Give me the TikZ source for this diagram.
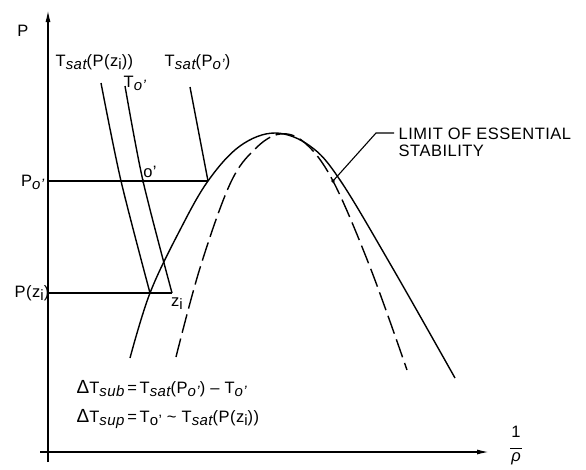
\documentclass[tikz,border=0pt]{standalone}
\usepackage{fontspec}
\setmainfont{Liberation Sans}[LetterSpace=3]
\usetikzlibrary{arrows.meta}
\newcommand\sbs[1]{\raisebox{-0.35ex}{\fontsize{15}{15}\selectfont\itshape #1}}
\newcommand\sbu[1]{\raisebox{-0.35ex}{\fontsize{15}{15}\selectfont #1}}
\begin{document}
\begin{tikzpicture}[x=1pt,y=-1pt,line width=1.4pt,
  lbl/.style={inner sep=0pt,font=\fontsize{16.5}{17}\selectfont},
  axisarrow/.style={-{Latex[length=12pt,width=5pt]}},
  dashcurve/.style={dash pattern=on 19pt off 6pt}]
\useasboundingbox (0,0) rectangle (586,469);
% axes
\coordinate (ybot) at (48,462);
\coordinate (ytop) at (48,10);
\coordinate (xl) at (40,452);
\coordinate (xr) at (489,452);
\draw[axisarrow] (ybot) -- (ytop);
\draw[axisarrow] (xl) -- (xr);
\node[lbl] (P) at (23,31) {P};
\node[lbl,align=center] (rho) at (516,446) {1\\[-6pt]\rule{12pt}{0.9pt}\\[-4pt]\itshape ρ};
% pressure levels
\node[lbl,anchor=east] (Po) at (45,182) {P\sbs{o'}};
\node[lbl,anchor=east] (Pz) at (50,293) {P(z\sbu{i})};
\coordinate (PoA) at (48,181);
\coordinate (PzA) at (48,293);
\coordinate (sat) at (208,181);
\coordinate (zi) at (172,293);
\coordinate (o) at (143,181);
\draw (PoA) -- (sat);
\draw (PzA) -- (zi);
\fill (o) circle (1.8pt);
\node[lbl] (olbl) at (150,172) {o'};
\node[lbl] (zlbl) at (177,304) {z\sbu{i}};
% isotherm lines
\draw plot[smooth] coordinates {(101,83) (121,181) (150,293)};
\draw plot[smooth] coordinates {(125,86) (143,181) (172,293)};
\coordinate (tsp) at (190,87);
\draw (tsp) -- (sat);
\node[lbl,anchor=west] (L1) at (55,62) {T\sbs{sat}(P(z\sbu{i}))};
\node[lbl,anchor=west] (L2) at (123,83) {T\sbs{o'}};
\node[lbl,anchor=west] (L3) at (164,62) {T\sbs{sat}(P\sbs{o'})};
% curves
\draw plot[smooth,tension=0.6] coordinates {(130,358) (150,293) (180,230) (208,181) (240,146) (275,133) (310,146) (340,180) (392,267) (455,378)};
\draw[dashcurve] plot[smooth,tension=0.6] coordinates {(176,357) (200,268) (230,184) (255,149) (280,134) (305,143) (333,181) (370,267) (407,370)};
% limit label
\coordinate (lim) at (333,181);
\coordinate (bend) at (376,133);
\coordinate (lend) at (394,133);
\fill (lim) circle (1.8pt);
\draw[line width=1.1pt] (lim) -- (bend) -- (lend);
\node[lbl,anchor=north west,align=left] (limit) at (398,127) {LIMIT OF ESSENTIAL\\STABILITY};
% equations
\node[lbl,anchor=west] (eq1) at (76,389) {{\fontsize{19}{19}\selectfont Δ}T\sbs{sub}\,=\,T\sbs{sat}(P\sbs{o'}) – T\sbs{o'}};
\node[lbl,anchor=west] (eq2) at (76,419) {{\fontsize{19}{19}\selectfont Δ}T\sbs{sup}\,=\,T\sbu{o'} \textasciitilde{} T\sbs{sat}(P(z\sbu{i}))};
\end{tikzpicture}
\end{document}
